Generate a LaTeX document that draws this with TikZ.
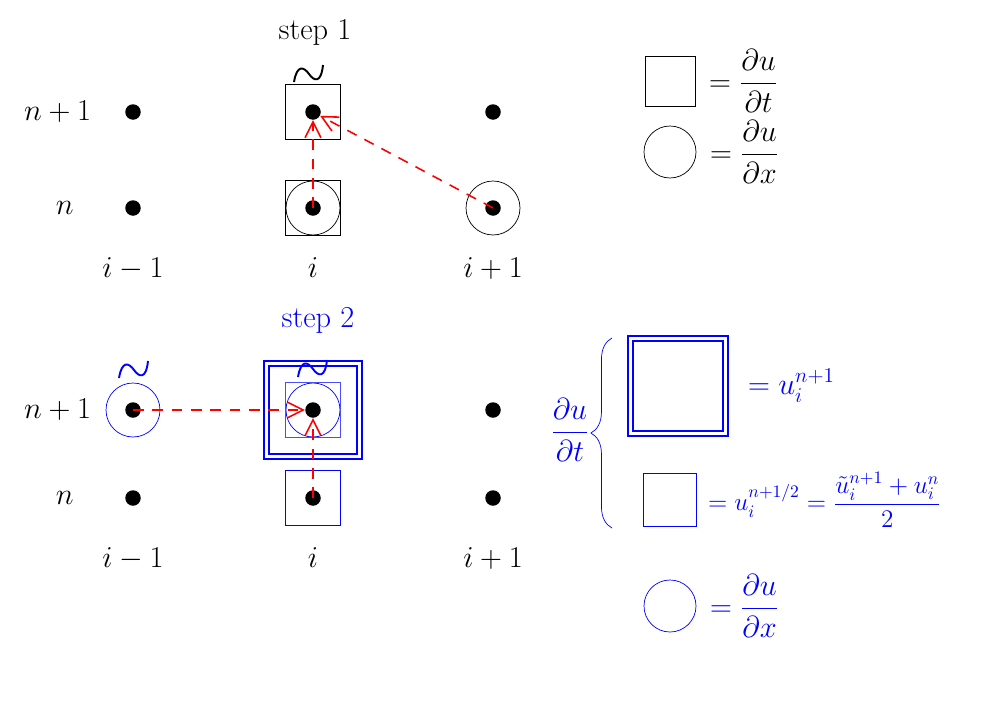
\documentclass[tikz,border=0pt]{standalone}
\usepackage{amsmath}
\usetikzlibrary{arrows.meta,positioning,decorations.pathreplacing}
\newcommand{\tildmark}[1]{\draw[line width=1.1pt,shift={#1}] (-15,8) .. controls (-12,-10) and (-5,-7) .. (0,0) .. controls (5,7) and (12,10) .. (14,-9);}

\begin{document}
\begin{tikzpicture}[x=0.02cm,y=-0.02cm,
  every node/.style={font=\LARGE},
  pt/.style={circle,fill,inner sep=0pt,minimum size=0.31cm},
  sq/.style={draw,minimum size=1.1cm,inner sep=0pt},
  rg/.style={draw,circle,minimum size=1.08cm,inner sep=0pt},
  arr/.style={red,line width=0.9pt,dash pattern=on 6pt off 5pt,-{Straight Barb[length=9pt,width=9pt]}}]
\useasboundingbox (0,0) rectangle (1000,700);

\node[pt] (a) at (133,112) {};
\node[pt] (b) at (313,112) {};
\node[pt] (c) at (493,112) {};
\node[pt] (d) at (133,208) {};
\node[pt] (e) at (313,208) {};
\node[pt] (f) at (493,208) {};
\node (np) [left=0.55cm of a] {$n+1$};
\node (nn) [left=0.9cm of d] {$n$};
\node (im) [below=0.7cm of d] {$i-1$};
\node (ii) [below=0.7cm of e] {$i$};
\node (ip) [below=0.7cm of f] {$i+1$};
\node[sq] (bsq) at (b) {};
\node[sq] (esq) at (e) {};
\node[rg] (erg) at (e) {};
\node[rg] (frg) at (f) {};
\tildmark{(309,74)}
\node (s1) at (315,32) {step 1};
\draw[arr](e.center)--(b);
\draw[arr](f.center)--(b);

\begin{scope}[blue]
\node[pt,black] (g) at (133,410) {};
\node[pt,black] (h) at (313,410) {};
\node[pt,black] (k) at (493,410) {};
\node[pt,black] (l) at (133,498) {};
\node[pt,black] (m) at (313,498) {};
\node[pt,black] (o) at (493,498) {};
\node[black] (np2) [left=0.55cm of g] {$n+1$};
\node[black] (nn2) [left=0.9cm of l] {$n$};
\node[black] (im2) [below=0.7cm of l] {$i-1$};
\node[black] (ii2) [below=0.7cm of m] {$i$};
\node[black] (ip2) [below=0.7cm of o] {$i+1$};
\node[rg] (grg) at (g) {};
\node[rg] (hrg) at (h) {};
\node[sq,blue!70] (hsq) at (h) {};
\node[draw,double,line width=1.5pt,double distance=1.5pt,minimum size=1.86cm] (hdb) at (h) {};
\node[sq] (msq) at (m) {};
\tildmark{(134,370)}
\tildmark{(313,369)}
\node (s2) at (318,320) {step 2};
\end{scope}
\draw[arr](g.center)--(h);
\draw[arr](m.center)--(h);

\node[sq,minimum size=1.0cm] (lsq) at (670,81) {};
\node (lsqt) [right=0.15cm of lsq] {$=\dfrac{\partial u}{\partial t}$};
\node[rg,minimum size=1.04cm] (lrg) at (670,152) {};
\node (lrgt) [right=0.15cm of lrg] {$=\dfrac{\partial u}{\partial x}$};

\begin{scope}[blue]
\node[draw,double,line width=1.5pt,double distance=1.5pt,minimum size=1.9cm] (rdb) at (678,386) {};
\node (rdbt) [right=0.3cm of rdb] {$=u_i^{n+1}$};
\node[sq,minimum size=1.06cm] (rsq) at (670,500) {};
\node[font=\Large] (rsqt) [right=0.1cm of rsq] {$=u_i^{n+1/2}=\dfrac{\tilde u_i^{n+1}+u_i^{n}}{2}$};
\node[rg,minimum size=1.04cm] (rrg) at (670,606) {};
\node (rrgt) [right=0.15cm of rrg] {$=\dfrac{\partial u}{\partial x}$};
\node (dudt) at (570,430) {$\dfrac{\partial u}{\partial t}$};
\coordinate (bra) at (612,528);
\coordinate (brb) at (612,338);
\draw[decorate,decoration={brace,amplitude=12pt}] (bra)--(brb);
\end{scope}
\end{tikzpicture}
\end{document}
